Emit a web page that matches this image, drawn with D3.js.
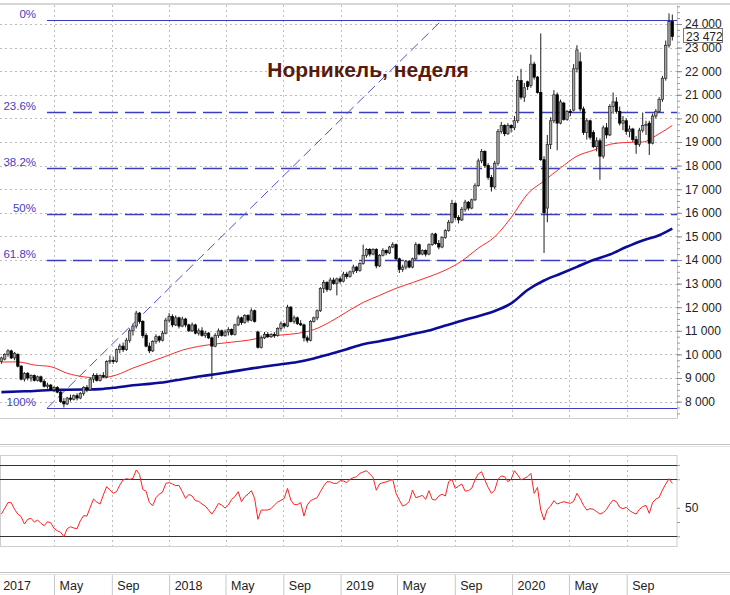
<!DOCTYPE html>
<html>
<head>
<meta charset="utf-8">
<script src="https://cdn.jsdelivr.net/npm/d3@7"></script>
<style>
  body { margin: 0; background: #fff; }
  svg { display: block; font-family: "Liberation Sans", Arial, sans-serif; }
</style>
</head>
<body>
<div id="chart"></div>
<script>
// weekly bars, first bar = week of 9 Jan 2017
const bar_open = [
  9700,9800,10000,10150,9850,10000,9500,8950,9200,9000,
  9100,8900,9050,8850,8650,8700,8500,8600,8400,8000,
  7900,8150,8100,8250,8150,8350,8600,8500,8950,9100,
  8900,9100,9050,9700,9750,9700,10200,10350,10200,10600,
  11000,11200,11750,11400,10800,10350,10150,10550,10750,10600,
  10900,11450,11600,11250,11550,11200,11500,11250,11000,11250,
  10900,11000,10800,10900,10700,10350,10800,11000,10800,10950,
  11050,10850,11250,11550,11350,11650,11450,11850,10950,10300,
  10700,10850,10750,10850,10800,11100,11300,11200,12000,11400,
  11550,11300,11250,10700,10600,11400,11550,11850,12800,13050,
  12750,13150,13000,13200,13100,13400,13300,13500,13700,13550,
  13850,14200,14450,14250,14450,13750,14200,14400,14300,14550,
  14650,14050,13600,13700,13950,13700,14050,14650,14250,14400,
  14250,14650,15100,14700,14550,14950,15250,15600,16400,15800,
  15700,16150,16450,16200,16550,17150,18200,18600,18000,17500,
  17100,18100,19450,19700,19350,19700,19600,19900,21600,20900,
  21550,21400,22300,21750,21100,18250,16200,18900,19900,21000,
  19800,20650,19950,20300,20350,22100,22400,20400,19400,19900,
  19400,18800,19050,18400,19600,19300,20500,20700,20300,19800,
  19900,19450,19550,19100,18900,19500,19700,19800,18950,20100,
  20300,20800,21700,23100,24100
];
const bar_high = [
  9900,10050,10220,10200,10100,10050,9550,9250,9250,9150,
  9150,9100,9100,8950,8800,8750,8650,8650,8450,8150,
  8200,8300,8300,8350,8400,8650,8700,9000,9200,9200,
  9150,9250,9750,9950,9900,10250,10450,10500,10700,11100,
  11300,11850,11800,11450,10900,10500,10600,10850,10800,11000,
  11550,11750,11700,11650,11600,11600,11550,11300,11350,11300,
  11100,11150,11000,10950,10750,10900,11100,11050,11050,11150,
  11100,11300,11650,11600,11700,11700,11950,11900,11000,10800,
  10950,10950,10900,10950,11150,11400,11350,12100,12050,11650,
  11600,11450,11300,10800,11450,11600,11900,12850,13150,13100,
  13250,13250,13250,13300,13500,13500,13550,13800,13750,13900,
  14650,14500,14500,14500,14500,14250,14500,14450,14600,14750,
  14700,14100,13800,14000,14000,14100,14750,14700,14450,14450,
  14700,15150,15150,14850,15000,15300,15700,16550,16450,15900,
  16250,16550,16500,16600,17250,18300,18700,18650,18100,17600,
  18200,19550,19850,19750,19800,19750,20100,21800,22100,21500,
  21600,22700,22400,21800,23600,18400,19300,20050,21200,21100,
  20800,20700,20350,20400,22300,23100,22800,20500,20000,19950,
  19500,19200,19150,19700,19800,20600,21100,20900,20500,20100,
  20000,19700,19600,19250,19600,20250,19900,19900,20200,20400,
  20900,21800,23300,24450,24400
];
const bar_low = [
  9600,9750,9900,9800,9750,9450,8900,8850,8900,8850,
  8850,8850,8800,8600,8550,8450,8400,8350,7950,7750,
  7850,8000,8050,8050,8100,8250,8400,8450,8800,8850,
  8850,9000,9000,9600,9600,9650,10050,10100,10150,10500,
  10800,11100,11300,10700,10300,10050,10100,10450,10500,10550,
  10850,11350,11150,11200,11100,11150,11150,10950,10950,10850,
  10800,10750,10700,10650,8950,10300,10700,10750,10750,10800,
  10800,10800,11200,11250,11300,11350,11400,11350,10250,10250,
  10650,10700,10700,10700,10750,11000,11100,11150,11350,11300,
  11250,11200,10550,10500,10550,11350,11450,11800,12600,12650,
  12700,12950,12500,13000,13050,13200,13250,13400,13450,13500,
  13800,14100,14150,14200,13650,13700,14150,14200,14250,14500,
  14000,13450,13500,13600,13650,13650,14000,14200,14200,14150,
  14200,14600,14650,14450,14500,14900,15200,15550,15700,15550,
  15650,16050,16100,16150,16500,17100,18100,17900,17400,16900,
  17000,18000,19350,19250,19300,19400,19500,19800,20800,20700,
  21200,21300,21650,21050,18200,14300,15600,18700,19800,18650,
  19750,19900,19900,20100,20300,21950,20300,19300,19100,19100,
  18750,18600,17400,18300,19150,19250,20200,20200,19700,19500,
  19300,19200,19000,18500,18800,19400,19300,18450,18900,20000,
  20250,20700,21600,23000,23300
];
const bar_close = [
  9850,10000,10150,9850,10050,9500,8950,9200,9000,9100,
  8900,9050,8850,8650,8700,8500,8600,8400,8000,7900,
  8150,8100,8250,8150,8350,8600,8500,8950,9100,8900,
  9100,9050,9700,9750,9700,10200,10350,10200,10600,11000,
  11200,11750,11400,10800,10350,10150,10550,10750,10600,10900,
  11450,11600,11250,11550,11200,11500,11250,11000,11250,10900,
  11000,10800,10900,10700,10350,10800,11000,10800,10950,11050,
  10850,11250,11550,11350,11650,11450,11850,11400,10300,10700,
  10850,10750,10850,10800,11100,11300,11200,12000,11400,11550,
  11300,11250,10700,10600,11400,11550,11850,12800,13050,12750,
  13150,13000,13200,13100,13400,13300,13500,13700,13550,13850,
  14200,14450,14250,14450,13750,14200,14400,14300,14550,14650,
  14050,13600,13700,13950,13700,14050,14650,14250,14400,14250,
  14650,15100,14700,14550,14950,15250,15600,16400,15800,15700,
  16150,16450,16200,16550,17150,18200,18600,18000,17500,17100,
  18100,19450,19700,19350,19700,19600,19900,21600,20900,21300,
  21350,22300,21750,21100,18250,16000,18900,19900,21000,19800,
  20700,19950,20300,20250,22100,22900,20400,19400,19900,19200,
  18800,19050,18400,19600,19300,20500,20700,20300,19800,19900,
  19450,19550,19100,18900,19500,19700,19750,18950,20100,20300,
  20800,21700,23100,24100,23472
];

// oscillator (lower panel), one value per bar
const rsi_values = [
  45.6,49.6,53.6,53.6,48.9,45.6,43.8,38.6,41.9,42.6,
  40.0,41.4,39.1,37.4,40.2,39.5,35.6,33.9,32.8,29.7,
  35.3,36.7,35.8,35.3,40.9,44.5,44.2,50.3,56.1,54.0,
  52.6,59.0,64.8,62.4,60.1,61.3,65.9,69.5,70.4,69.9,
  70.6,76.5,73.4,62.9,61.5,53.6,51.5,57.1,59.6,61.0,
  67.1,67.6,66.7,65.5,65.7,61.3,56.6,59.4,58.2,55.0,
  54.5,52.6,51.2,48.4,45.6,48.9,53.1,51.9,49.8,51.9,
  55.9,57.8,61.3,54.3,57.8,59.6,62.0,56.6,41.9,48.4,
  48.4,48.4,49.4,51.9,54.0,55.2,56.6,63.6,55.4,52.2,
  52.2,53.6,44.2,51.9,55.0,56.1,57.1,61.3,65.2,68.3,
  68.1,67.1,67.1,69.0,68.8,67.6,69.9,71.1,71.8,74.1,
  75.1,76.0,73.7,71.3,62.3,66.7,67.6,68.1,69.0,69.9,
  60.1,55.4,51.2,52.2,54.3,62.4,57.1,57.8,58.7,55.9,
  62.0,55.9,55.4,58.2,59.6,58.2,68.3,69.9,63.6,65.2,
  66.7,61.7,62.0,63.6,69.5,73.7,75.3,69.5,64.3,60.1,
  62.4,69.9,72.3,71.8,68.3,69.9,76.0,73.0,69.5,70.6,
  71.8,74.1,60.1,64.3,48.4,41.4,48.9,51.2,55.0,52.6,
  53.6,54.3,53.6,53.1,54.5,60.1,56.4,51.7,48.4,49.4,
  48.9,47.3,45.6,46.6,48.9,52.6,55.4,54.3,50.3,49.4,
  50.3,48.0,46.6,45.6,48.9,50.8,51.7,46.1,53.6,56.1,
  57.3,62.4,66.7,70.4,67.1
];
const rsi_levels = [80, 70, 30];
const rsi_ticks = [80, 70, 50, 40, 30];

// moving averages read every 5th bar
const ma_bar_index = [0,5,10,15,20,25,30,35,40,45,50,55,60,65,70,75,80,85,90,95,100,
  105,110,115,120,125,130,135,140,145,150,155,160,165,170,175,180,185,190,195,200,204];
const ma_red = [9680,9680,9550,9480,9200,9050,9000,9130,9420,9670,9920,10180,10340,10440,
  10520,10600,10730,10820,10890,11050,11380,11800,12200,12500,12800,13040,13290,13570,
  13960,14500,14980,15800,16800,17350,17900,18400,18650,18900,18980,19000,19350,19700];
const ma_blue = [8400,8430,8450,8490,8500,8510,8530,8600,8690,8750,8830,8950,9060,9160,
  9270,9380,9490,9580,9680,9830,10020,10220,10430,10560,10700,10860,11010,11220,11430,
  11620,11840,12160,12730,13130,13420,13710,14000,14230,14550,14830,15050,15330];

// fibonacci tool
const fib_anchor_dates = [Date.UTC(2017, 3, 16), Date.UTC(2019, 7, 5)];
const fib_anchor_prices = [7716, 24170];
const fib_levels = [0, 23.6, 38.2, 50, 61.8, 100];

const price_ticks = d3.range(8000, 24001, 1000);
const last_price = 23472;
const title_text = "Норникель, неделя";

const W = 730, H = 595;
const plot = { left: 0, right: 677, top: 5, bottom: 418 };
const low_panel = { top: 455, bottom: 546 };

const svg = d3.select("#chart").append("svg")
    .attr("width", W)
    .attr("height", H);

const bar_dates = bar_close.map((d, i) => d3.utcWeek.offset(new Date(Date.UTC(2017, 0, 9)), i));

const x = d3.scaleUtc()
    .domain([new Date(Date.UTC(2017, 0, 6)), new Date(Date.UTC(2020, 11, 17))])
    .range([plot.left, plot.right]);
const y = d3.scaleLinear().domain([7305, 24805]).range([plot.bottom, plot.top]);
const y_rsi = d3.scaleLinear().domain([23.2, 87]).range([low_panel.bottom, low_panel.top]);

const month_ticks = d3.utcMonth.every(4).range(new Date(Date.UTC(2017, 0, 1)), new Date(Date.UTC(2020, 11, 1)));
const fmt_price = v => d3.format(",")(v).replace(/,/g, " ");
const fmt_month = d => d.getUTCMonth() === 0 ? d3.utcFormat("%Y")(d) : d3.utcFormat("%b")(d);

svg.append("defs").append("clipPath").attr("id", "clip-main")
    .append("rect")
    .attr("x", plot.left).attr("y", plot.top)
    .attr("width", plot.right - plot.left).attr("height", plot.bottom - plot.top);

// frame lines
const frame = svg.append("g");
frame.append("line").attr("x1", 0).attr("x2", W).attr("y1", 4).attr("y2", 4)
    .attr("stroke", "#d6d6d6").attr("stroke-width", 2);
frame.append("line").attr("x1", 0).attr("x2", W).attr("y1", 444.5).attr("y2", 444.5)
    .attr("stroke", "#c4c4c4");
frame.append("line").attr("x1", 0).attr("x2", W).attr("y1", 446.5).attr("y2", 446.5)
    .attr("stroke", "#e4e4e4");
frame.append("line").attr("x1", 0).attr("x2", W).attr("y1", 572.5).attr("y2", 572.5)
    .attr("stroke", "#c4c4c4");
frame.append("line").attr("x1", 0).attr("x2", W).attr("y1", 574.5).attr("y2", 574.5)
    .attr("stroke", "#e4e4e4");
frame.append("line").attr("x1", 0).attr("x2", plot.right).attr("y1", plot.bottom + 0.5).attr("y2", plot.bottom + 0.5)
    .attr("stroke", "#cfcfcf");
frame.append("rect")
    .attr("x", 0.5).attr("y", low_panel.top + 0.5)
    .attr("width", plot.right - 0.5).attr("height", low_panel.bottom - low_panel.top)
    .attr("fill", "none").attr("stroke", "#cfcfcf");

// grid
const grid = svg.append("g").attr("stroke", "#bdbdbd").attr("stroke-dasharray", "2,3");
grid.selectAll(".hgrid").data(price_ticks).enter().append("line")
    .attr("x1", plot.left).attr("x2", plot.right)
    .attr("y1", d => Math.round(y(d)) + 0.5).attr("y2", d => Math.round(y(d)) + 0.5);
month_ticks.forEach(d => {
    const xx = Math.round(x(d)) + 0.5;
    grid.append("line").attr("x1", xx).attr("x2", xx).attr("y1", plot.top).attr("y2", plot.bottom);
    grid.append("line").attr("x1", xx).attr("x2", xx).attr("y1", low_panel.top).attr("y2", low_panel.bottom);
});

// price axis (right)
const axis_minor = svg.append("g")
    .attr("transform", `translate(${plot.right},0)`)
    .call(d3.axisRight(y).tickValues(d3.range(7500, 24751, 250)).tickSize(3).tickSizeOuter(0).tickFormat(""));
axis_minor.select(".domain").attr("stroke", "#c8c8c8");
axis_minor.selectAll(".tick line").attr("stroke", "#9a9a9a");

const axis_price = svg.append("g")
    .attr("transform", `translate(${plot.right},0)`)
    .call(d3.axisRight(y).tickValues(price_ticks).tickSize(5).tickSizeOuter(0).tickFormat(fmt_price));
axis_price.select(".domain").remove();
axis_price.selectAll(".tick line").attr("stroke", "#8a8a8a");
axis_price.selectAll("text")
    .attr("font-family", "Liberation Sans, Arial, sans-serif")
    .attr("font-size", 12).attr("fill", "#222").attr("x", 8);

// fibonacci retracement
const fib_g = svg.append("g").attr("clip-path", "url(#clip-main)");
const fib_hi = fib_anchor_prices[1], fib_lo = fib_anchor_prices[0];
const fib_x0 = x(new Date(fib_anchor_dates[0]));
fib_levels.forEach(p => {
    const price = fib_hi - p / 100 * (fib_hi - fib_lo);
    const yy = Math.round(y(price)) + 0.5;
    const solid = (p === 0 || p === 100);
    fib_g.append("line")
        .attr("x1", fib_x0).attr("x2", plot.right)
        .attr("y1", yy).attr("y2", yy)
        .attr("stroke", "#3c3cbe")
        .attr("stroke-width", solid ? 1.2 : 1.6)
        .attr("stroke-dasharray", solid ? null : "19,7");
    svg.append("text")
        .attr("x", 36).attr("y", yy - 3)
        .attr("text-anchor", "end")
        .attr("font-size", 11.5)
        .attr("fill", "#4141c4")
        .text(`${p}%`);
});
fib_g.append("line")
    .attr("x1", x(new Date(fib_anchor_dates[0]))).attr("y1", y(fib_anchor_prices[0]))
    .attr("x2", x(new Date(fib_anchor_dates[1]))).attr("y2", y(fib_anchor_prices[1]))
    .attr("stroke", "#5050d0").attr("stroke-width", 1)
    .attr("stroke-dasharray", "10,5");

// moving averages
const ma_line = d3.line()
    .x(d => x(bar_dates[d[0]]))
    .y(d => y(d[1]))
    .curve(d3.curveMonotoneX);
const main_g = svg.append("g").attr("clip-path", "url(#clip-main)");
main_g.append("path")
    .datum(ma_bar_index.map((b, i) => [b, ma_blue[i]]))
    .attr("fill", "none").attr("stroke", "#0c0c96").attr("stroke-width", 2.6)
    .attr("d", ma_line);
main_g.append("path")
    .datum(ma_bar_index.map((b, i) => [b, ma_red[i]]))
    .attr("fill", "none").attr("stroke", "#ff2a2a").attr("stroke-width", 1)
    .attr("d", ma_line);

// candles
const body_w = 2.4;
const candles = main_g.selectAll(".candle").data(bar_close).enter().append("g");
candles.append("line")
    .attr("x1", (d, i) => x(bar_dates[i])).attr("x2", (d, i) => x(bar_dates[i]))
    .attr("y1", (d, i) => y(bar_high[i])).attr("y2", (d, i) => y(bar_low[i]))
    .attr("stroke", "#1e1e1e").attr("stroke-width", 1);
candles.append("rect")
    .attr("x", (d, i) => x(bar_dates[i]) - body_w / 2)
    .attr("y", (d, i) => y(Math.max(bar_open[i], d)))
    .attr("width", body_w)
    .attr("height", (d, i) => Math.max(1, Math.abs(y(bar_open[i]) - y(d))))
    .attr("fill", (d, i) => d >= bar_open[i] ? "#a4a4a4" : "#000")
    .attr("stroke", (d, i) => d >= bar_open[i] ? "#262626" : "#000")
    .attr("stroke-width", 0.7);

// title
svg.append("text")
    .attr("x", 368).attr("y", 77)
    .attr("text-anchor", "middle")
    .attr("font-size", 21).attr("font-weight", "bold")
    .attr("fill", "#571a0c")
    .text(title_text);

// last price tag
const tag_y = y(last_price);
svg.append("rect")
    .attr("x", 683.5).attr("y", Math.round(tag_y) - 7.5)
    .attr("width", 39).attr("height", 14)
    .attr("fill", "#fff").attr("stroke", "#7a7a7a");
svg.append("text")
    .attr("x", 686).attr("y", tag_y + 4.5)
    .attr("font-size", 12).attr("fill", "#222")
    .text(fmt_price(last_price));

// lower panel: oscillator
const rsi_g = svg.append("g");
rsi_levels.forEach(v => {
    rsi_g.append("line")
        .attr("x1", 0).attr("x2", plot.right)
        .attr("y1", Math.round(y_rsi(v)) + 0.5).attr("y2", Math.round(y_rsi(v)) + 0.5)
        .attr("stroke", "#333").attr("stroke-width", 1.2);
});
rsi_g.append("path")
    .datum(rsi_values)
    .attr("fill", "none").attr("stroke", "#ff2020").attr("stroke-width", 1)
    .attr("d", d3.line().x((d, i) => x(bar_dates[i])).y(d => y_rsi(d)));

const axis_rsi = svg.append("g")
    .attr("transform", `translate(${plot.right},0)`)
    .call(d3.axisRight(y_rsi).tickValues(rsi_ticks).tickSize(3).tickSizeOuter(0)
        .tickFormat(d => d === 50 ? "50" : ""));
axis_rsi.select(".domain").remove();
axis_rsi.selectAll(".tick line").attr("stroke", "#9a9a9a");
axis_rsi.selectAll("text")
    .attr("font-family", "Liberation Sans, Arial, sans-serif")
    .attr("font-size", 12).attr("fill", "#222").attr("x", 8);

// time axis strip
const axis_time = svg.append("g")
    .attr("transform", "translate(0,575)")
    .call(d3.axisBottom(x).tickValues(month_ticks).tickSize(20).tickSizeOuter(0).tickFormat(fmt_month));
axis_time.select(".domain").remove();
axis_time.selectAll(".tick line").attr("stroke", "#c8c8c8");
axis_time.selectAll("text")
    .attr("font-family", "Liberation Sans, Arial, sans-serif")
    .attr("font-size", 12.5).attr("fill", "#222")
    .attr("text-anchor", "start")
    .attr("x", 5).attr("y", 6).attr("dy", "0.71em");
</script>
</body>
</html>
